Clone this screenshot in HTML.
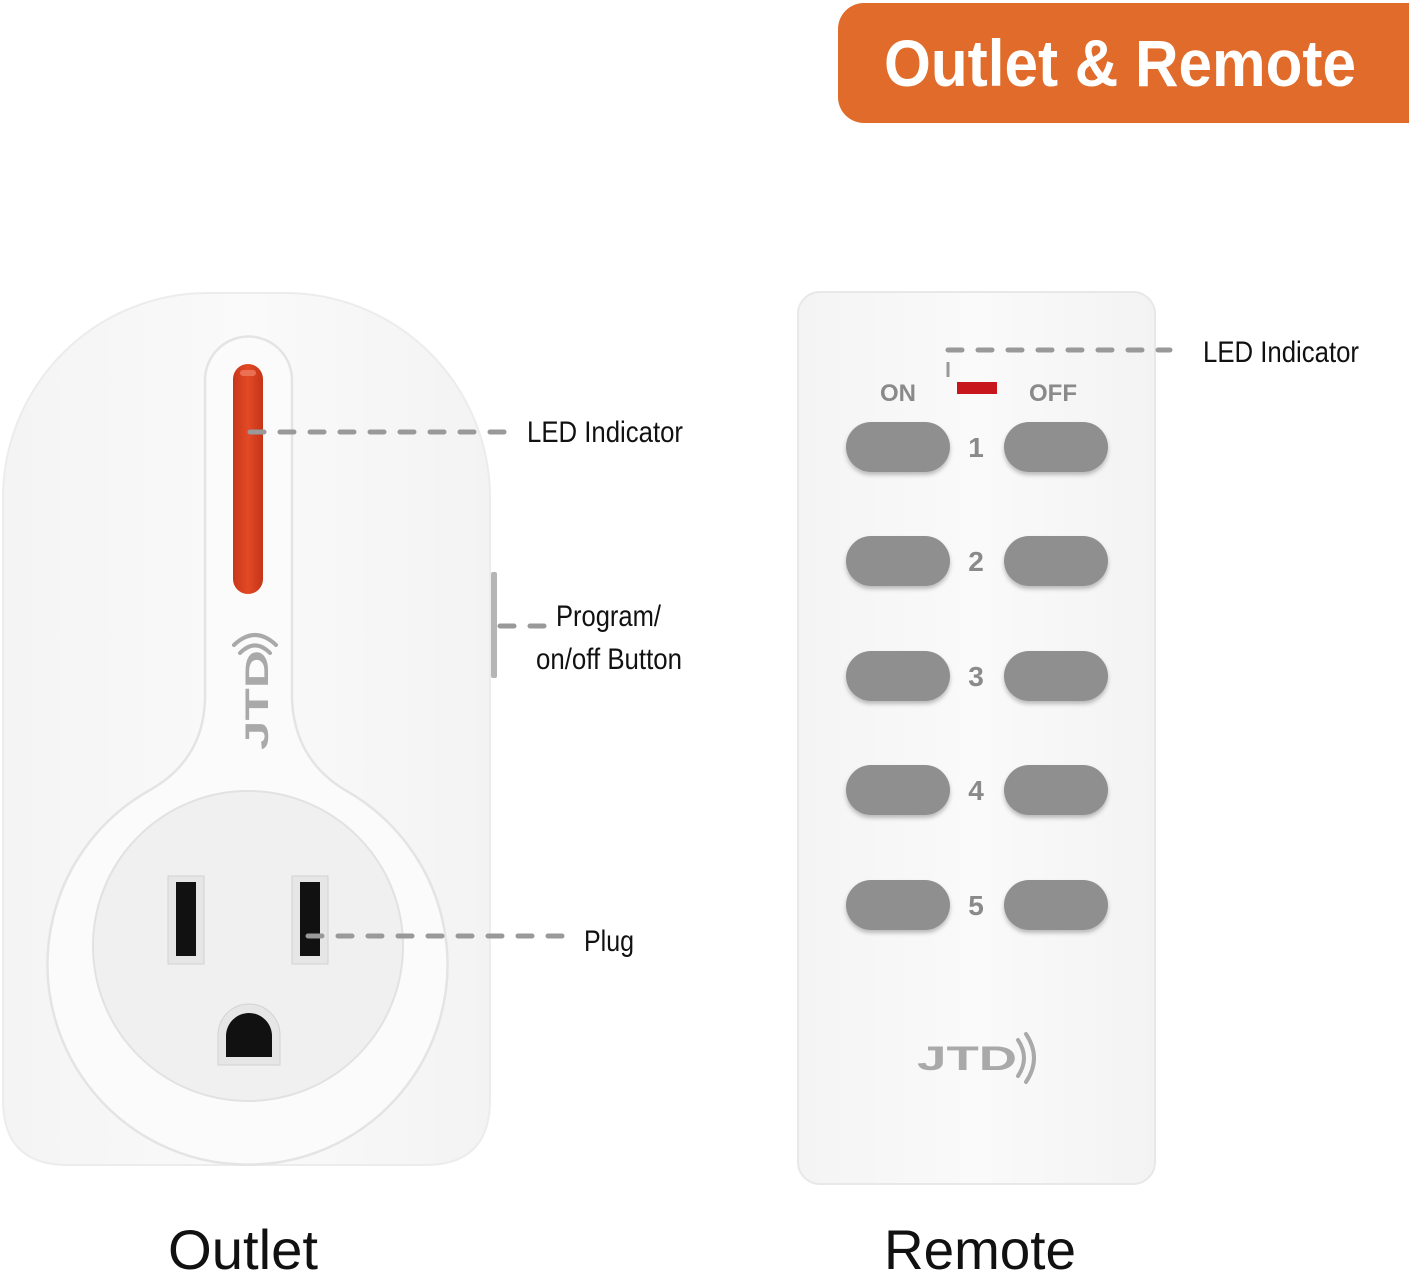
<!DOCTYPE html>
<html><head><meta charset="utf-8"><style>
html,body{margin:0;padding:0;background:#fff;width:1409px;height:1276px;overflow:hidden}
svg{display:block}
</style></head><body>
<svg width="1409" height="1276" viewBox="0 0 1409 1276" xmlns="http://www.w3.org/2000/svg">
<defs>
<linearGradient id="bodyg" x1="0" y1="0" x2="1" y2="0">
<stop offset="0" stop-color="#f4f4f4"/><stop offset="0.5" stop-color="#fafafa"/><stop offset="1" stop-color="#f3f3f3"/>
</linearGradient>
<linearGradient id="ledg" x1="0" y1="0" x2="1" y2="0">
<stop offset="0" stop-color="#c8361a"/><stop offset="0.5" stop-color="#e24a25"/><stop offset="1" stop-color="#c43418"/>
</linearGradient>
<filter id="sh" x="-20%" y="-20%" width="140%" height="160%"><feDropShadow dx="0" dy="3" stdDeviation="2" flood-color="#000" flood-opacity="0.25"/></filter>
</defs>

<rect x="838" y="3" width="600" height="120" rx="26" fill="#e06b2a"/>
<text x="1120" y="86" font-family="Liberation Sans, sans-serif" font-weight="bold" font-size="66" fill="#fff" text-anchor="middle" textLength="472" lengthAdjust="spacingAndGlyphs">Outlet &amp; Remote</text>

<path d="M3,500 A205,205 0 0 1 208,293 L285,293 A205,205 0 0 1 490,500 L490,1100 Q490,1165 425,1165 L68,1165 Q3,1165 3,1100 Z" fill="url(#bodyg)" stroke="#ececec" stroke-width="2"/>
<rect x="491" y="572" width="6" height="106" rx="2" fill="#b5b5b5"/>
<path d="M205,380 A43.5,43.5 0 0 1 292,380 L292,700 Q295,760 345,790 A200,200 0 1 1 150,790 Q203,760 205,700 Z" fill="#fbfbfb" stroke="#e4e4e4" stroke-width="2.5"/>
<circle cx="248" cy="946" r="155" fill="#f0f0f0" stroke="#e2e2e2" stroke-width="2"/>
<rect x="233" y="364" width="30" height="230" rx="15" fill="url(#ledg)"/>
<rect x="240" y="370" width="16" height="6" rx="3" fill="#ee7a60" opacity="0.8"/>
<text transform="translate(268,700) rotate(-90)" font-family="Liberation Sans, sans-serif" font-weight="bold" font-size="32" fill="#a9a9a9" text-anchor="middle" textLength="100" lengthAdjust="spacingAndGlyphs">JTD</text>
<path d="M240,653 Q255,638 270,653" fill="none" stroke="#a9a9a9" stroke-width="4" stroke-linecap="round"/>
<path d="M234,645 Q255,625 276,645" fill="none" stroke="#a9a9a9" stroke-width="4" stroke-linecap="round"/>
<rect x="168" y="876" width="36" height="88" fill="#e6e6e6" stroke="#d2d2d2"/>
<rect x="176" y="882" width="20" height="74" fill="#111"/>
<rect x="292" y="876" width="36" height="88" fill="#e6e6e6" stroke="#d2d2d2"/>
<rect x="300" y="882" width="20" height="74" fill="#111"/>
<path d="M218,1065 L218,1035 A31,31 0 0 1 280,1035 L280,1065 Z" fill="#e6e6e6" stroke="#d2d2d2"/>
<path d="M226,1057 L226,1036 A23,23 0 0 1 272,1036 L272,1057 Z" fill="#111"/>

<!-- Remote -->
<rect x="798" y="292" width="357" height="892" rx="22" fill="url(#bodyg)" stroke="#e8e8e8" stroke-width="2"/>
<rect x="957" y="382" width="40" height="12" fill="#c8161d"/>
<g font-family="Liberation Sans, sans-serif" font-weight="bold" fill="#8a8a8a">
<text x="898" y="401" font-size="24" text-anchor="middle">ON</text>
<text x="1053" y="401" font-size="24" text-anchor="middle">OFF</text>
<text x="976" y="457" font-size="28" text-anchor="middle">1</text>
<text x="976" y="571" font-size="28" text-anchor="middle">2</text>
<text x="976" y="686" font-size="28" text-anchor="middle">3</text>
<text x="976" y="800" font-size="28" text-anchor="middle">4</text>
<text x="976" y="915" font-size="28" text-anchor="middle">5</text>
</g>
<g fill="#8f8f8f" filter="url(#sh)">
<rect x="846" y="422" width="104" height="50" rx="25"/><rect x="1004" y="422" width="104" height="50" rx="25"/>
<rect x="846" y="536" width="104" height="50" rx="25"/><rect x="1004" y="536" width="104" height="50" rx="25"/>
<rect x="846" y="651" width="104" height="50" rx="25"/><rect x="1004" y="651" width="104" height="50" rx="25"/>
<rect x="846" y="765" width="104" height="50" rx="25"/><rect x="1004" y="765" width="104" height="50" rx="25"/>
<rect x="846" y="880" width="104" height="50" rx="25"/><rect x="1004" y="880" width="104" height="50" rx="25"/>
</g>
<text x="917" y="1070" font-family="Liberation Sans, sans-serif" font-weight="bold" font-size="34" fill="#a9a9a9" textLength="100" lengthAdjust="spacingAndGlyphs">JTD</text>
<path d="M1018,1040 Q1030,1058 1018,1076" fill="none" stroke="#a9a9a9" stroke-width="4" stroke-linecap="round"/>
<path d="M1026,1034 Q1042,1058 1026,1082" fill="none" stroke="#a9a9a9" stroke-width="4" stroke-linecap="round"/>

<!-- callouts -->
<g stroke="#999" stroke-width="5" stroke-linecap="round" stroke-dasharray="14 16" fill="none">
<line x1="250" y1="432" x2="508" y2="432"/>
<line x1="500" y1="626" x2="546" y2="626"/>
<line x1="308" y1="936" x2="566" y2="936"/>
<line x1="948" y1="350" x2="1170" y2="350"/>
</g>
<line x1="948" y1="362" x2="948" y2="377" stroke="#999" stroke-width="3"/>

<g font-family="Liberation Sans, sans-serif" font-size="30" fill="#111">
<text x="527" y="442" textLength="156" lengthAdjust="spacingAndGlyphs">LED Indicator</text>
<text x="556" y="626" textLength="105" lengthAdjust="spacingAndGlyphs">Program/</text>
<text x="536" y="669" textLength="146" lengthAdjust="spacingAndGlyphs">on/off Button</text>
<text x="584" y="951" textLength="50" lengthAdjust="spacingAndGlyphs">Plug</text>
<text x="1203" y="362" textLength="156" lengthAdjust="spacingAndGlyphs">LED Indicator</text>
</g>

<g font-family="Liberation Sans, sans-serif" font-size="56" fill="#111">
<text x="168" y="1269" textLength="150" lengthAdjust="spacingAndGlyphs">Outlet</text>
<text x="884" y="1269" textLength="192" lengthAdjust="spacingAndGlyphs">Remote</text>
</g>
</svg>
</body></html>
